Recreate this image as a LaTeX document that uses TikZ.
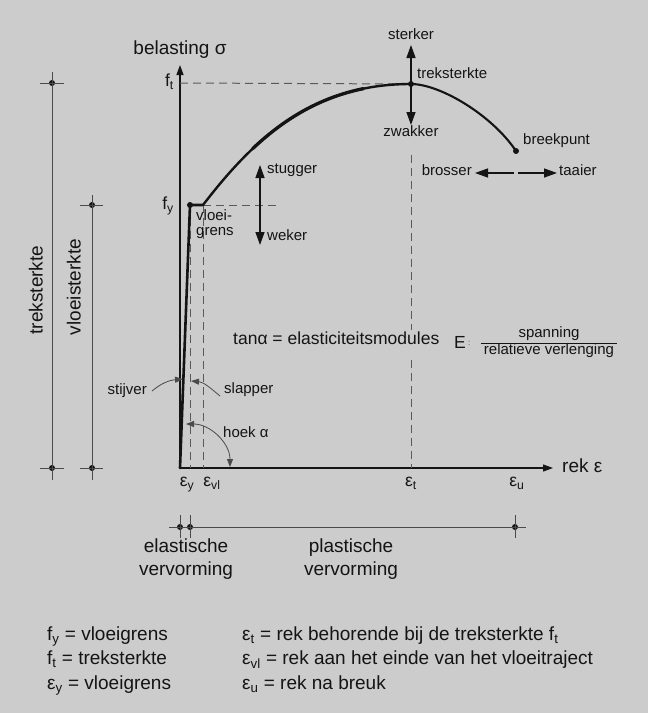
\documentclass[tikz,border=0pt]{standalone}
\usepackage{fontspec}
\setmainfont{Liberation Sans}
\usetikzlibrary{arrows.meta}
\definecolor{bg}{HTML}{CCCCCC}
\definecolor{ink}{HTML}{141414}
\definecolor{dimc}{HTML}{4A4A4A}
\definecolor{dashc}{HTML}{5A5A5A}
\newcommand\fS{\fontsize{15}{17}\selectfont}
\newcommand\fM{\fontsize{17.5}{20}\selectfont}
\newcommand\fL{\fontsize{19}{23}\selectfont}
\begin{document}
\begin{tikzpicture}[x=1pt,y=-1pt,
  axisline/.style={draw=ink, line width=1.2pt, -{Triangle[length=10pt,width=7pt]}},
  dimline/.style={draw=dimc, line width=0.9pt},
  guide/.style={draw=dashc, line width=1pt, dash pattern=on 8pt off 5pt},
  curvel/.style={draw=ink, line width=2.4pt, line cap=round},
  bigarrow/.style={draw=ink, line width=1.4pt, -{Triangle[length=13pt,width=9pt]}},
  smallarrow/.style={draw=dimc, line width=0.8pt, -{Triangle[length=8pt,width=6pt]}},
  lab/.style={inner sep=0pt, font=\fS, text=ink},
  labm/.style={inner sep=0pt, font=\fM, text=ink},
  labl/.style={inner sep=0pt, font=\fL, text=ink},
  dotm/.style={circle, fill=ink, inner sep=0pt, minimum size=6pt}]
\useasboundingbox[fill=bg] (0,0) rectangle (648,713);

% key points
\coordinate (O) at (180,468);
\coordinate (Ytop) at (180,65);
\coordinate (Xend) at (553,468);
\coordinate (Yld) at (203,205);
\coordinate (EuB) at (516,151);

% axes
\draw[axisline] (O) -- (Ytop);
\draw[axisline] (O) -- (Xend);

% guides (dashed)
\coordinate (ftL) at (180,83);
\coordinate (fyE) at (280,205);
\coordinate (eyT) at (190,205);
\coordinate (eyB) at (190,468);
\coordinate (evT) at (203,205);
\coordinate (evB) at (203,468);
\coordinate (etA) at (411,155);
\coordinate (etB) at (411,330);
\coordinate (etC) at (411,360);
\coordinate (etD) at (411,468);
\node[dotm] (peak) at (411,84) {};
\draw[guide] (ftL) -- (peak);
\draw[guide] (evT) -- (fyE);
\draw[guide] (eyT) -- (eyB);
\draw[guide] (evT) -- (evB);
\draw[guide] (etA) -- (etB);
\draw[guide] (etC) -- (etD);

% stress-strain curve
\node[dotm] (fydot) at (190,205) {};
\draw[curvel, line width=2.6pt] (O) -- (fydot.center) -- (Yld);
\draw[curvel] (Yld) .. controls (253,140) and (311,84) .. (peak.center);
\draw[draw=ink, line width=3.3pt, line cap=round] plot[domain=0.31:0.83, samples=40, variable=\t]
  ({(1-\t)^3*203 + 3*(1-\t)^2*\t*253 + 3*(1-\t)*\t^2*311 + \t^3*411},
   {(1-\t)^3*205 + 3*(1-\t)^2*\t*140 + 3*(1-\t)*\t^2*84 + \t^3*84});
\draw[curvel, line width=2.1pt] (peak.center) .. controls (440,84) and (492,115) .. (EuB);
\node[dotm] (bp) at (EuB) {};

% axis labels
\node[labl, anchor=mid] (ylab) at (180,52) {belasting σ};
\node[labl, anchor=mid west] (xlab) at (562,470) {rek ε};
\node[labm, anchor=mid east] (ftlab) at (174,84) {f\textsubscript{t}};
\node[labm, anchor=mid east] (fylab) at (174,207) {f\textsubscript{y}};
\node[labm, anchor=mid] (eylab) at (187,484) {ε\textsubscript{y}};
\node[labm, anchor=mid] (evlab) at (212,484) {ε\textsubscript{vl}};
\node[labm, anchor=mid] (etlab) at (411,484) {ε\textsubscript{t}};
\node[labm, anchor=mid] (eulab) at (517,484) {ε\textsubscript{u}};

% peak arrows
\node[lab, anchor=mid] (sterker) at (411,37) {sterker};
\node[lab, anchor=mid] (zwakker) at (411,134) {zwakker};
\node[lab, anchor=mid west] (tkl) at (417,76) {treksterkte};
\coordinate (stUp) at (411,45);
\coordinate (stDn) at (411,125);
\draw[bigarrow] (peak.center) -- (stUp);
\draw[bigarrow] (peak.center) -- (stDn);
\node[lab, anchor=mid west] (bpl) at (523,142) {breekpunt};

% brosser / taaier
\node[lab, anchor=mid east] (brosser) at (472,173) {brosser};
\node[lab, anchor=mid west] (taaier) at (559,173) {taaier};
\coordinate (bt1) at (514,173);
\coordinate (bt2) at (518,173);
\coordinate (btL) at (475,173);
\coordinate (btR) at (557,173);
\draw[bigarrow] (bt1) -- (btL);
\draw[bigarrow] (bt2) -- (btR);

% stugger / weker
\coordinate (sw) at (260,205);
\coordinate (swU) at (260,165);
\coordinate (swD) at (260,245);
\draw[bigarrow] (sw) -- (swU);
\draw[bigarrow] (sw) -- (swD);
\node[lab, anchor=mid west] (stugger) at (267,171) {stugger};
\node[lab, anchor=mid west] (weker) at (267,238) {weker};

% vloeigrens
\node[lab, anchor=mid west] (vl1) at (196,218) {vloei-};
\node[lab, anchor=mid west] (vl2) at (196,233) {grens};

% stijver / slapper / hoek
\node[lab, anchor=mid east] (stijver) at (147,392) {stijver};
\coordinate (stijS) at (152,391);
\coordinate (stijT) at (183,379);
\draw[smallarrow] (stijS) to[out=40,in=185] (stijT);
\node[lab, anchor=mid west] (slapper) at (224,391) {slapper};
\coordinate (slapS) at (220,396);
\coordinate (slapT) at (191,381);
\draw[smallarrow] (slapS) to[out=140,in=-5] (slapT);
\node[lab, anchor=mid west] (hoek) at (223,435) {hoek α};
\coordinate (hk1) at (186,424);
\coordinate (hk2) at (230,467);
\draw[smallarrow, {Triangle[length=8pt,width=6pt]}-{Triangle[length=8pt,width=6pt]}] (hk1) to[out=0,in=90] (hk2);

% E-modulus text
\node[labm, anchor=mid west] (tan) at (233,342) {tanα = elasticiteitsmodules};
\node[labm, anchor=mid west] (E) at (454,345.5) {E};
\node[inner sep=0pt, font=\fontsize{8}{8}\selectfont, text=dimc, anchor=mid west] (col) at (468,343) {:};
\coordinate (frL) at (481,343);
\coordinate (frR) at (617,343);
\draw[draw=ink, line width=0.8pt] (frL) -- (frR);
\node[lab, anchor=mid] (span) at (549,335) {spanning};
\node[lab, anchor=mid] (rel) at (549,352) {relatieve verlenging};

% left dimension lines
\node[dotm] (d1t) at (52,83) {};
\node[dotm] (d1b) at (52,468) {};
\node[dotm] (d2t) at (92,205) {};
\node[dotm] (d2b) at (92,468) {};
\draw[dimline] (52,72) -- (52,480);
\draw[dimline] (40,83) -- (64,83);
\draw[dimline] (40,468) -- (64,468);
\draw[dimline] (92,195) -- (92,480);
\draw[dimline] (80,205) -- (103,205);
\draw[dimline] (80,468) -- (103,468);
\node[labl, rotate=90, anchor=mid] (tkv) at (40,290) {treksterkte};
\node[labl, rotate=90, anchor=mid] (vlv) at (78,287) {vloeisterkte};

% bottom dimension line
\node[dotm] (b1) at (180,527) {};
\node[dotm] (b2) at (190,527) {};
\node[dotm] (b3) at (515,527) {};
\draw[dimline] (169,527) -- (526,527);
\draw[dimline] (180,515) -- (180,538);
\draw[dimline] (190,515) -- (190,538);
\draw[dimline] (515,515) -- (515,538);
\node[labl, anchor=mid] (el1) at (186,550) {elastische};
\node[labl, anchor=mid] (el2) at (186,573) {vervorming};
\node[labl, anchor=mid] (pl1) at (351,550) {plastische};
\node[labl, anchor=mid] (pl2) at (351,573) {vervorming};

% legend
\node[labl, anchor=mid west] (lg1) at (47,638) {f\textsubscript{y} = vloeigrens};
\node[labl, anchor=mid west] (lg2) at (47,662) {f\textsubscript{t} = treksterkte};
\node[labl, anchor=mid west] (lg3) at (47,687) {ε\textsubscript{y} = vloeigrens};
\node[labl, anchor=mid west] (lg4) at (242,638) {ε\textsubscript{t} = rek behorende bij de treksterkte f\textsubscript{t}};
\node[labl, anchor=mid west] (lg5) at (242,662) {ε\textsubscript{vl} = rek aan het einde van het vloeitraject};
\node[labl, anchor=mid west] (lg6) at (242,687) {ε\textsubscript{u} = rek na breuk};
\end{tikzpicture}
\end{document}
